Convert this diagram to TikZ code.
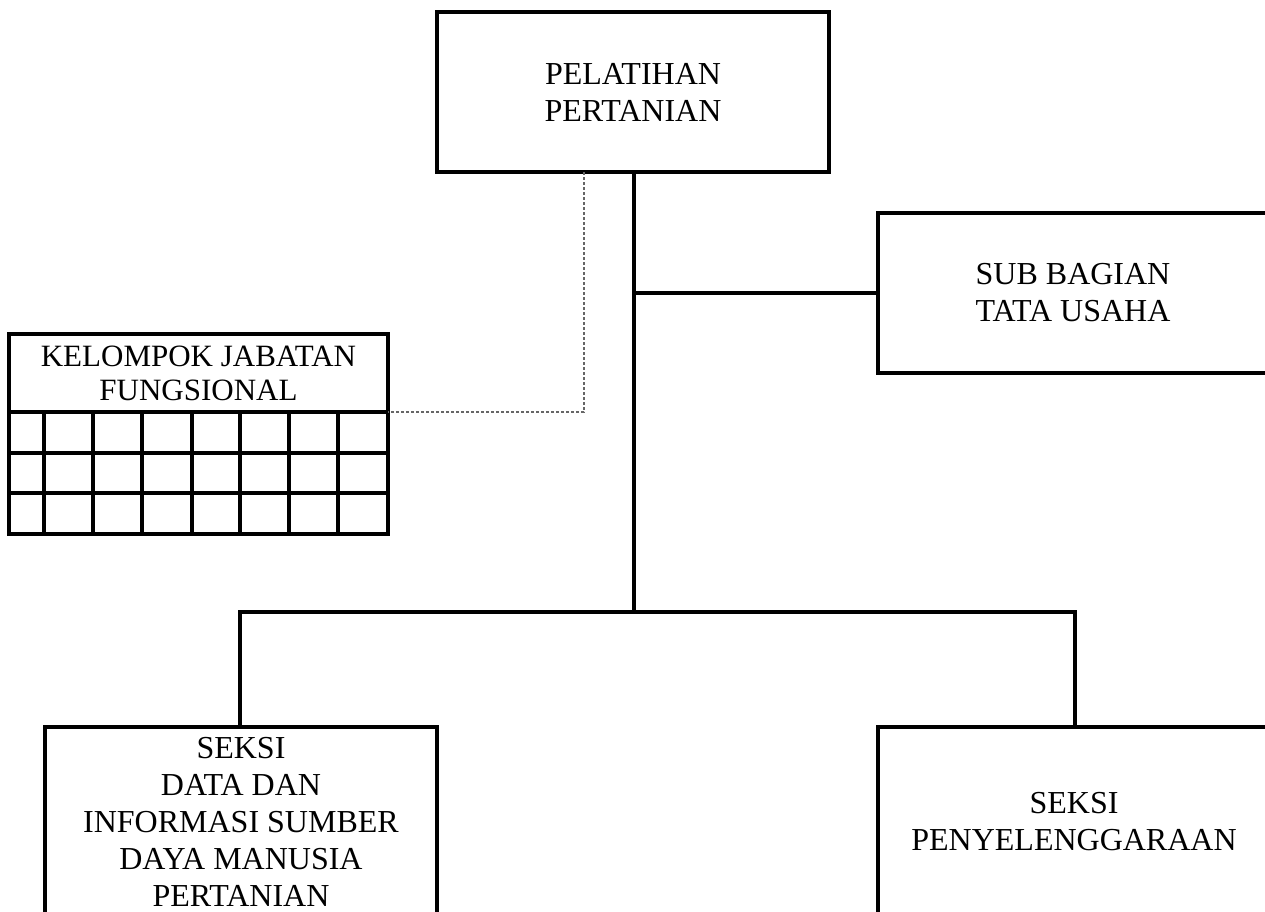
\documentclass[tikz,border=0pt]{standalone}
\usepackage{fontspec}
\setmainfont{Liberation Serif}
\begin{document}
\begin{tikzpicture}[x=1pt,y=-1pt,
  box/.style={draw, line width=3.5pt, rectangle, outer sep=0pt, inner sep=0pt,
    align=center, font=\fontsize{32}{37}\selectfont},
  conn/.style={line width=3.5pt},
  fdash/.style={draw=black!60, line width=1.2pt, dash pattern=on 3pt off 2pt},
  gridline/.style={line width=3.5pt}]
\useasboundingbox (0,0) rectangle (1265,911);
\clip (0,0) rectangle (1265,911);
% boxes
\node[box, minimum width=392pt, minimum height=160pt] (top) at (633,92) {PELATIHAN\\PERTANIAN};
\node[box, minimum width=390pt, minimum height=160pt] (tu) at (1073,293) {SUB BAGIAN\\TATA USAHA};
\node[box, minimum width=379pt, minimum height=78pt, font=\fontsize{31}{34}\selectfont] (kjf) at (198.5,373) {KELOMPOK JABATAN\\FUNGSIONAL};
\node[box, minimum width=392pt, minimum height=190pt] (data) at (241,822)
  {SEKSI\\DATA DAN\\INFORMASI SUMBER\\DAYA MANUSIA\\PERTANIAN};
\node[box, minimum width=392pt, minimum height=190pt] (peny) at (1074,822)
  {SEKSI\\PENYELENGGARAAN};
% grid under KJF
\draw[gridline] (kjf.south west) rectangle (388,534);
\foreach \y in {453,493} \draw[gridline] (9,\y) -- (388,\y);
\foreach \x in {44,93,142,192,240,289,338} \draw[gridline] (\x,412) -- (\x,534);
% connectors
\coordinate (j1) at (634,293);
\coordinate (j2) at (634,612);
\coordinate (bl) at (240,612);
\coordinate (br) at (1075,612);
\coordinate (dk) at (584,412);
\draw[conn] (top.south -| j1) -- (j2);
\draw[conn] (j1) -- (tu.west);
\draw[conn] (bl |- data.north) -- (bl) -- (br) -- (br |- peny.north);
\draw[fdash] (top.south -| dk) -- (dk) -- (kjf.south east);
\end{tikzpicture}
\end{document}
